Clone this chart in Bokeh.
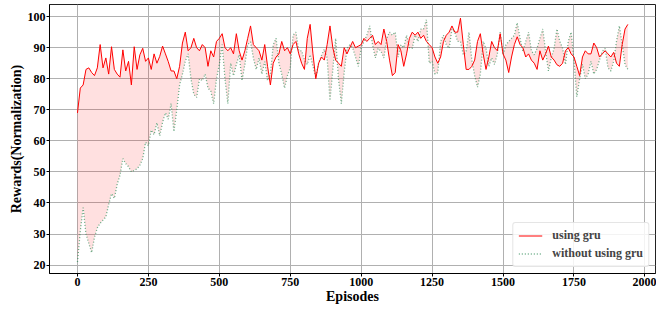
from bokeh.plotting import figure
from bokeh.models import Range1d, FixedTicker, Legend, LegendItem, ColumnDataSource
from bokeh.embed import file_html
from bokeh.resources import INLINE

episodes = list(range(0, 1950, 10))

using_gru = [
    69, 77, 78, 83, 83.5, 82, 81, 83.5, 91, 83.5,
    86.7, 81.5, 90.3, 83, 81.5, 80.5, 89.3, 82.5, 85.6, 78,
    90.3, 83, 87.7, 89.8, 85.6, 86.7, 83, 88, 85, 87.2,
    90.5, 88, 85.5, 82.5, 82.5, 80, 84, 91.5, 95, 89,
    90, 93, 90, 89, 91, 90, 84, 89, 87, 92,
    93, 94.5, 90, 89, 90, 88, 94.5, 89, 86, 89,
    93, 97, 91, 90, 89, 86, 91, 84, 78, 85,
    87, 88, 92, 89, 90, 88, 91, 92, 88, 85,
    83, 93, 97.5, 88, 80, 85, 87, 86, 91, 97,
    90, 86, 85, 84, 90, 88, 90, 92, 90, 90.5,
    91, 93, 92, 93, 94, 91, 92, 91, 96, 92,
    86, 81, 82, 91, 89, 84, 88, 93, 95, 94,
    95, 93, 94, 92, 91, 90, 87, 85, 87, 92,
    94, 95, 97, 95, 95, 99.5, 91, 83, 83, 84,
    86, 92, 94.5, 88, 83, 87, 92, 90, 89, 94.5,
    88, 86, 82, 87, 91, 93.5, 91, 90, 87, 88,
    86, 85, 83, 89, 86, 88, 90.5, 87, 86, 84.5,
    84, 85, 89, 90, 88, 87, 84, 81, 87, 89,
    88, 88, 91.5, 90, 87, 88, 89, 88, 87, 88.5,
    85, 84, 91, 96, 97.5,
]

without_gru = [
    21, 31, 38.5, 30, 27, 24, 29, 32, 33.5, 34.5,
    35.5, 39.5, 43, 41.5, 46, 49, 54.3, 52.7, 51.7, 50,
    50.5, 51, 52.2, 54.3, 59.5, 58.5, 63.5, 62, 65.8, 61.6,
    66, 69, 67, 72, 63, 70, 78, 81.5, 85.6, 88,
    80, 75, 74, 80, 79.4, 81.5, 77, 76, 72, 80,
    84.6, 91, 80, 72, 85, 81, 84.6, 87.7, 79.4, 84.6,
    91, 91.9, 86.7, 83, 86.7, 81.5, 85.5, 79.4, 81.5, 90.9,
    93, 85, 81.5, 77, 81, 83.5, 94, 95, 89, 89,
    86, 84.6, 87.7, 84, 80.4, 85, 87.5, 89.5, 86.7, 73,
    83, 93, 80, 72, 82, 89.8, 90.9, 90, 87, 84,
    90, 92, 94, 97, 91, 86.7, 89.8, 88.8, 86.7, 93,
    95, 94, 95, 87, 90.9, 90, 94, 90, 89.8, 94,
    92, 96, 96, 99, 85, 85.6, 81.5, 82, 92, 94,
    91, 89.8, 96, 95, 92, 92, 87.7, 88.8, 95, 86,
    81, 77.3, 81.5, 92, 89.8, 84, 86.7, 84.6, 88, 95,
    87.7, 90.9, 92, 93, 94, 98, 93, 88.8, 92, 95,
    89, 87.7, 89.8, 93, 96, 88.8, 82.5, 86.7, 89.8, 96,
    92, 89.8, 84.6, 92, 95, 86, 74.2, 80, 84.6, 80,
    81.5, 85.6, 81.5, 83, 86, 88.8, 89.8, 83.5, 82.5, 85.6,
    92, 97, 91, 84.6, 83,
]

x_ticks = [0, 250, 500, 750, 1000, 1250, 1500, 1750, 2000]
y_ticks = [20, 30, 40, 50, 60, 70, 80, 90, 100]

FONT = "Liberation Serif"

src = ColumnDataSource(dict(ep=episodes, a=using_gru, b=without_gru))

p = figure(width=656, height=308, output_backend="svg", toolbar_location=None,
           x_range=Range1d(-98.6, 2037.4), y_range=Range1d(17.3, 103.9),
           min_border_left=49, min_border_right=1, min_border_top=4, min_border_bottom=35)

p.varea(x="ep", y1="a", y2="b", source=src, fill_color="red", fill_alpha=0.12)
r_green = p.line("ep", "b", source=src, line_color="#2e8b57", line_alpha=0.7,
                 line_width=1.3, line_dash="1 2")
r_red = p.line("ep", "a", source=src, line_color="red", line_width=1)

p.xaxis.ticker = FixedTicker(ticks=x_ticks)
p.yaxis.ticker = FixedTicker(ticks=y_ticks)
p.xaxis.axis_label = "Episodes"
p.yaxis.axis_label = "Rewards(Normalization)"
for ax in (p.xaxis, p.yaxis):
    ax.axis_label_text_font = FONT
    ax.axis_label_text_font_style = "bold"
    ax.axis_label_text_font_size = "14px"
    ax.major_label_text_font = FONT
    ax.major_label_text_font_style = "bold"
    ax.major_label_text_font_size = "12px"
    ax.major_label_text_color = "black"
    ax.axis_label_text_color = "black"
    ax.axis_line_color = "black"
    ax.major_tick_line_color = "black"
    ax.major_tick_in = 0
    ax.major_tick_out = 3
    ax.minor_tick_line_color = None
    ax.axis_label_standoff = 0
    ax.major_label_standoff = 1
p.yaxis.axis_label_standoff = 1

p.grid.grid_line_color = "#b0b0b0"
p.grid.grid_line_width = 1
p.outline_line_color = "#222222"
p.outline_line_width = 1

legend = Legend(items=[LegendItem(label="using gru", renderers=[r_red]),
                       LegendItem(label="without using gru", renderers=[r_green])],
                location="bottom_right")
legend.label_text_font = FONT
legend.label_text_font_style = "bold"
legend.label_text_font_size = "12px"
legend.glyph_width = 24
legend.glyph_height = 15
legend.label_height = 15
legend.label_standoff = 10
legend.spacing = 3
legend.padding = 5
legend.margin = 6
legend.border_line_color = "#cccccc"
legend.border_radius = 3
legend.background_fill_alpha = 0.85
p.add_layout(legend)

open("out.html", "w").write(file_html(p, INLINE))
